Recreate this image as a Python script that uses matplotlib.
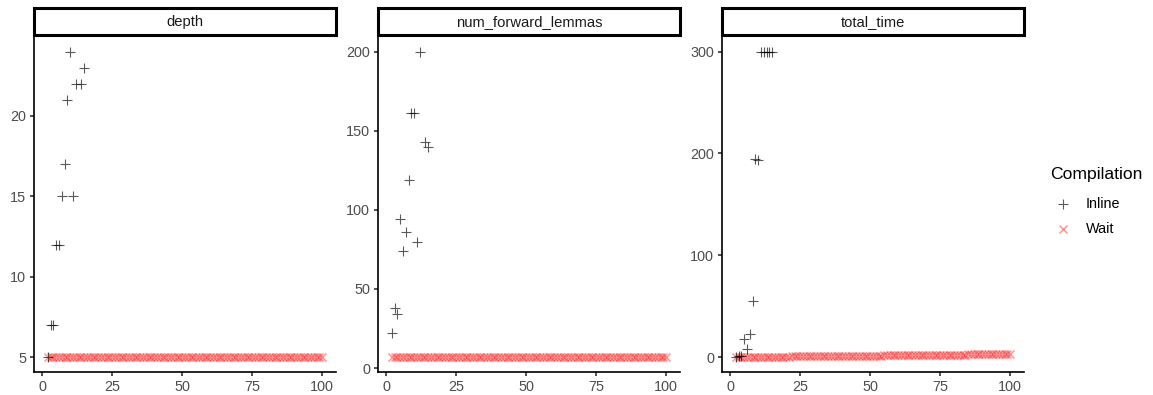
import matplotlib
matplotlib.use("Agg")
import matplotlib.pyplot as plt
from matplotlib.patches import Rectangle

plt.rcParams["font.family"] = ["Liberation Sans", "DejaVu Sans"]

# facet names (free y scales)
METRICS = ["depth", "num_forward_lemmas", "total_time"]

# Inline compilation runs
inline_x = [2, 3, 4, 5, 6, 7, 8, 9, 10, 11, 12, 14, 15]
inline_time_x = [2, 3, 4, 5, 6, 7, 8, 9, 10, 11, 12, 13, 14, 15]
inline_depth = [5, 7, 7, 12, 12, 15, 17, 21, 24, 15, 22, 22, 23]
inline_lemmas = [22, 38, 34, 94, 74, 86, 119, 161, 161, 80, 200, 143, 140]
inline_time = [0.5, 1, 1.5, 18, 8, 23, 55, 195, 194, 300, 300, 300, 300, 300]

# Wait compilation runs, n = 2..100
wait_x = list(range(2, 101))
wait_depth = [5] * len(wait_x)
wait_lemmas = [7] * len(wait_x)
wait_time = [
    0.1, 0.1, 0.1, 0.2, 0.2, 0.2, 0.2, 0.3, 0.3,
    0.3, 0.4, 0.4, 0.4, 0.5, 0.5, 0.5, 0.5, 0.6, 0.6,
    0.6, 0.7, 0.7, 0.7, 0.8, 0.8, 0.8, 0.8, 0.9, 0.9,
    0.9, 1.0, 1.0, 1.0, 1.1, 1.1, 1.1, 1.1, 1.2, 1.2,
    1.2, 1.3, 1.3, 1.3, 1.4, 1.4, 1.4, 1.4, 1.5, 1.5,
    1.5, 1.6, 1.6, 1.6, 1.7, 1.7, 1.7, 1.7, 1.8, 1.8,
    1.8, 1.9, 1.9, 1.9, 2.0, 2.0, 2.0, 2.0, 2.1, 2.1,
    2.1, 2.2, 2.2, 2.2, 2.3, 2.3, 2.3, 2.3, 2.4, 2.4,
    2.4, 2.5, 2.5, 2.5, 2.6, 2.6, 2.6, 2.6, 2.7, 2.7,
    2.7, 2.8, 2.8, 2.8, 2.9, 2.9, 2.9, 2.9, 3.0, 3.0,
]

x_ticks = [0, 25, 50, 75, 100]
y_ticks = {
    "depth": [5, 10, 15, 20],
    "num_forward_lemmas": [0, 50, 100, 150, 200],
    "total_time": [0, 100, 200, 300],
}

series = {
    "depth": ((inline_x, inline_depth), (wait_x, wait_depth)),
    "num_forward_lemmas": ((inline_x, inline_lemmas), (wait_x, wait_lemmas)),
    "total_time": ((inline_time_x, inline_time), (wait_x, wait_time)),
}

INLINE = dict(marker="+", color="black", alpha=0.65, markersize=6.5, markeredgewidth=0.8, linestyle="none")
WAIT = dict(marker="x", color="red", alpha=0.45, markersize=6.2, markeredgewidth=1.0, linestyle="none")

W, H = 1153, 395
fig = plt.figure(figsize=(W / 100, H / 100), dpi=100)


def px_axes(left, top, width, height):
    return fig.add_axes([left / W, 1 - (top + height) / H, width / W, height / H])


lefts = [34, 378, 722]
panel_w = 302
panel_top, panel_bottom = 36.4, 372.3
strip_top = 8.5

for left, name in zip(lefts, METRICS):
    ax = px_axes(left, panel_top, panel_w, panel_bottom - panel_top)
    (ix, iy), (wx, wy) = series[name]
    ax.plot(wx, wy, **WAIT)
    ax.plot(ix, iy, **INLINE)
    ax.margins(x=0.05, y=0.05)
    ax.set_xticks(x_ticks)
    ax.set_yticks(y_ticks[name])
    for side in ("top", "right"):
        ax.spines[side].set_visible(False)
    for side in ("left", "bottom"):
        ax.spines[side].set_linewidth(1.2)
        ax.spines[side].set_color("black")
    ax.tick_params(length=3.2, width=1.2, color="#333333", labelcolor="#4D4D4D",
                   labelsize=10.4, pad=2.5)

    # facet strip
    sax = px_axes(left, strip_top, panel_w, panel_top - strip_top - 1.5)
    sax.set_xlim(0, 1); sax.set_ylim(0, 1); sax.axis("off")
    sax.add_patch(Rectangle((0, 0), 1, 1, transform=sax.transAxes, fc="white",
                            ec="black", lw=2.2, clip_on=False))
    sax.text(0.5, 0.47, name, ha="center", va="center", fontsize=10.6, color="#1A1A1A")

# legend
lax = px_axes(1040, 150, 113, 100)
lax.set_xlim(1040, 1153); lax.set_ylim(250, 150); lax.axis("off")
lax.text(1050, 174, "Compilation", ha="left", va="center", fontsize=12.6, color="black")
for y, label, style in [(204, "Inline", INLINE), (229, "Wait", WAIT)]:
    lax.plot([1063], [y], **style)
    lax.text(1086, y, label, ha="left", va="center", fontsize=10.4, color="black")

fig.savefig("out.png", dpi=100, facecolor="white")
